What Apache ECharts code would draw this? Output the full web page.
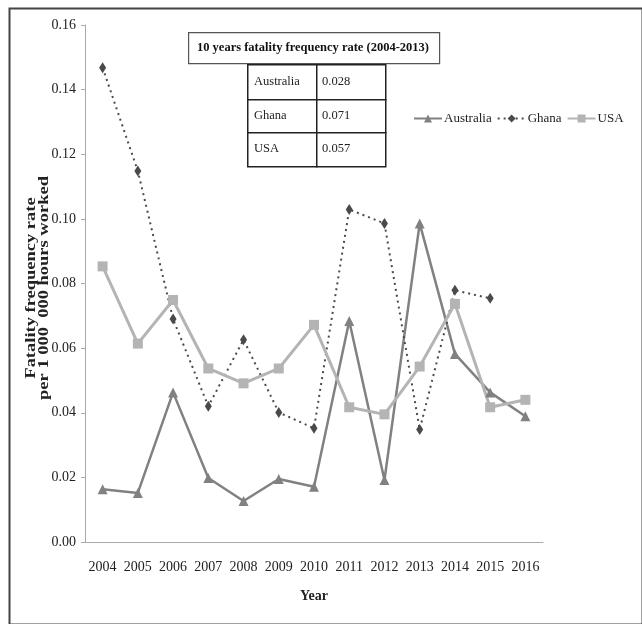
<!DOCTYPE html>
<html>
<head>
<meta charset="utf-8">
<script src="https://cdn.jsdelivr.net/npm/echarts@6/dist/echarts.min.js"></script>
<style>
  html, body { margin: 0; padding: 0; background: #fff; }
  #chart { width: 642px; height: 624px; }
</style>
</head>
<body>
<div id="chart"></div>
<script>
// Fatality frequency rate per 1 000 000 hours worked, 2004-2016
const years = ['2004','2005','2006','2007','2008','2009','2010','2011','2012','2013','2014','2015','2016'];
const australia = [0.0163, 0.0152, 0.0463, 0.0198, 0.0127, 0.0195, 0.0171, 0.0684, 0.0192, 0.0986, 0.0582, 0.0463, 0.0389];
const ghana = [0.1468, 0.1148, 0.0690, 0.0420, 0.0626, 0.0401, 0.0352, 0.1029, 0.0986, 0.0348, 0.0779, 0.0754, null];
const usa = [0.0853, 0.0614, 0.0749, 0.0537, 0.0491, 0.0537, 0.0672, 0.0417, 0.0395, 0.0543, 0.0737, 0.0417, 0.0440];
const yTicks = [0, 0.02, 0.04, 0.06, 0.08, 0.10, 0.12, 0.14, 0.16];

// Ten-year averages shown in the inset table
const tableTitle = '10 years fatality frequency rate (2004-2013)';
const tableCountries = ['Australia', 'Ghana', 'USA'];
const tableRates = ['0.028', '0.071', '0.057'];

// Vertical axis title, one entry per line
const yTitleLines = ['Fatality frequency rate', 'per 1 000  000 hours worked'];

const serif = '"Liberation Serif", "Times New Roman", serif';
const chart = echarts.init(document.getElementById('chart'), null, { renderer: 'canvas' });

// Inset table built as graphic elements
const tableGraphics = [];
tableGraphics.push({
  type: 'rect', left: 188, top: 32, z: 10,
  shape: { width: 251, height: 31 },
  style: { fill: '#fff', stroke: '#555', lineWidth: 1.2 }
});
tableGraphics.push({
  type: 'text', x: 313, y: 48, z: 11,
  style: { text: tableTitle, font: 'bold 12.5px ' + serif, fill: '#111', align: 'center', verticalAlign: 'middle' }
});
const rowTops = [64, 99, 132];
const rowBottoms = [99, 132, 166];
tableCountries.forEach((c, i) => {
  const h = rowBottoms[i] - rowTops[i];
  tableGraphics.push({
    type: 'rect', left: 247, top: rowTops[i], z: 10,
    shape: { width: 69, height: h },
    style: { fill: '#fff', stroke: '#222', lineWidth: 1.5 }
  });
  tableGraphics.push({
    type: 'rect', left: 316, top: rowTops[i], z: 10,
    shape: { width: 69, height: h },
    style: { fill: '#fff', stroke: '#222', lineWidth: 1.5 }
  });
  tableGraphics.push({
    type: 'text', x: 254, y: rowTops[i] + h / 2, z: 11,
    style: { text: c, font: '12.5px ' + serif, fill: '#222', verticalAlign: 'middle' }
  });
  tableGraphics.push({
    type: 'text', x: 322, y: rowTops[i] + h / 2, z: 11,
    style: { text: tableRates[i], font: '12.5px ' + serif, fill: '#222', verticalAlign: 'middle' }
  });
});

// Rotated, slightly stretched axis title lines
const yTitleX = [31, 44];
const yTitleGraphics = yTitleLines.map((t, i) => ({
  type: 'text', x: yTitleX[i], y: 288, rotation: Math.PI / 2, scaleX: 1.32, z: 5,
  style: { text: t, font: 'bold 14px ' + serif, fill: '#222', align: 'center', verticalAlign: 'middle' }
}));

const option = {
  backgroundColor: '#fff',
  animation: false,
  grid: { left: 85, right: 99, top: 25, bottom: 82 },
  legend: {
    left: 408, top: 107, width: 230,
    itemWidth: 28, itemHeight: 10, itemGap: 5,
    textStyle: { fontFamily: serif, fontSize: 13, color: '#222', padding: [0, 0, 0, -3] },
    data: ['Australia', 'Ghana', 'USA']
  },
  xAxis: {
    type: 'category',
    data: years,
    boundaryGap: true,
    name: 'Year',
    nameLocation: 'middle',
    nameGap: 47,
    nameMoveOverlap: false,
    nameTextStyle: { fontFamily: serif, fontSize: 14, fontWeight: 'bold', color: '#222' },
    axisLine: { lineStyle: { color: '#aaa', width: 1 } },
    axisTick: { alignWithLabel: true, length: 4, lineStyle: { color: '#aaa' } },
    axisLabel: { interval: 0, fontFamily: serif, fontSize: 14, color: '#222', margin: 18 }
  },
  yAxis: {
    type: 'value',
    min: 0, max: 0.16, interval: 0.02,
    axisLine: { show: true, lineStyle: { color: '#aaa', width: 1 } },
    axisTick: { show: true, length: 4, lineStyle: { color: '#aaa' } },
    splitLine: { show: false },
    axisLabel: {
      fontFamily: serif, fontSize: 14, color: '#222', margin: 9,
      formatter: v => yTicks.includes(Math.round(v * 100) / 100) ? v.toFixed(2) : ''
    }
  },
  series: [
    {
      name: 'Australia', type: 'line', data: australia,
      symbol: 'triangle', symbolSize: 10,
      lineStyle: { color: '#818181', width: 2.5 },
      itemStyle: { color: '#818181' }
    },
    {
      name: 'Ghana', type: 'line', data: ghana,
      symbol: 'diamond', symbolSize: [7, 11],
      lineStyle: { color: '#4a4a4a', width: 2, type: [2, 4] },
      itemStyle: { color: '#4a4a4a' }
    },
    {
      name: 'USA', type: 'line', data: usa,
      symbol: 'rect', symbolSize: 10,
      lineStyle: { color: '#b4b4b4', width: 3 },
      itemStyle: { color: '#b4b4b4' }
    }
  ],
  graphic: [
    {
      type: 'rect', left: 7, top: 6, z: 0, silent: true,
      shape: { width: 633, height: 616 },
      style: { fill: 'none', stroke: '#444', lineWidth: 2 }
    }
  ].concat(yTitleGraphics, tableGraphics)
};

chart.setOption(option);
</script>
</body>
</html>
